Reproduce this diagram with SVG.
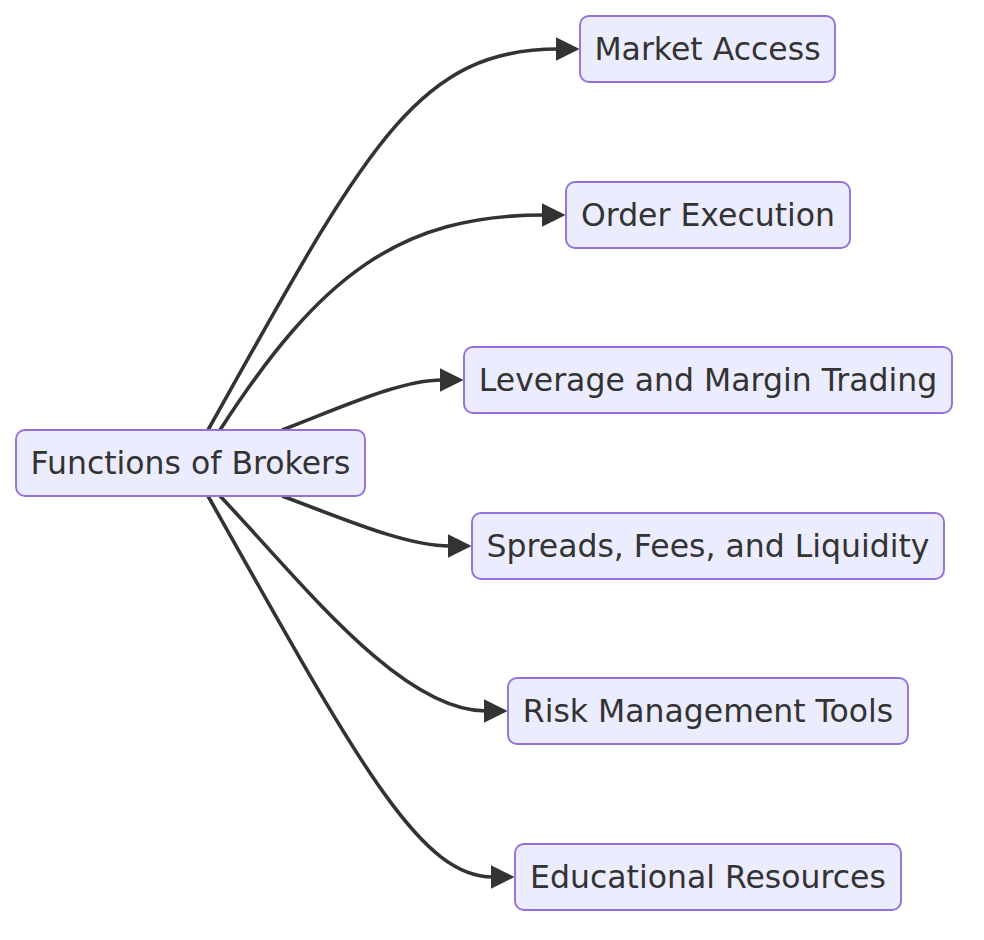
<svg xmlns="http://www.w3.org/2000/svg" width="984" height="940" viewBox="0 0 984 940">
<style>
.node rect{fill:#ECECFF;stroke:#9370DB;stroke-width:1.9px;}
.node text{font-family:"DejaVu Sans","Liberation Sans",sans-serif;font-size:31.5px;fill:#333333;text-anchor:middle;dominant-baseline:central;}
.edge{fill:none;stroke:#333333;stroke-width:3.6px;marker-end:url(#arrow);}
</style>
<defs>
<marker id="arrow" viewBox="0 0 10 10" refX="1" refY="5" markerUnits="userSpaceOnUse" markerWidth="24" markerHeight="24" orient="auto">
<path d="M0,0 L10,5 L0,10 z" fill="#333333"/>
</marker>
</defs>
<g id="connectors">
<path class="edge" d="M208,430 C365,150 415,49 558,49"/>
<path class="edge" d="M220,430 C320,275 400,215 544,215"/>
<path class="edge" d="M282,430 C340,408 400,380 442,380"/>
<path class="edge" d="M282,496 C342,518 405,546 450,546"/>
<path class="edge" d="M220,496 C300,580 400,711 486,711"/>
<path class="edge" d="M208,496 C360,766 420,877 493,877"/>
</g>
<g id="functions" class="node"><rect x="16" y="430" width="349" height="66" rx="9"/><text x="190.5" y="463">Functions of Brokers</text></g>
<g id="market" class="node"><rect x="580" y="16" width="255" height="66" rx="9"/><text x="707.5" y="49">Market Access</text></g>
<g id="order" class="node"><rect x="566" y="182" width="284" height="66" rx="9"/><text x="708" y="215">Order Execution</text></g>
<g id="leverage" class="node"><rect x="464" y="347" width="488" height="66" rx="9"/><text x="708" y="380">Leverage and Margin Trading</text></g>
<g id="spreads" class="node"><rect x="472" y="513" width="472" height="66" rx="9"/><text x="708" y="546">Spreads, Fees, and Liquidity</text></g>
<g id="risk" class="node"><rect x="508" y="678" width="400" height="66" rx="9"/><text x="708" y="711">Risk Management Tools</text></g>
<g id="education" class="node"><rect x="515" y="844" width="386" height="66" rx="9"/><text x="708" y="877">Educational Resources</text></g>
</svg>
